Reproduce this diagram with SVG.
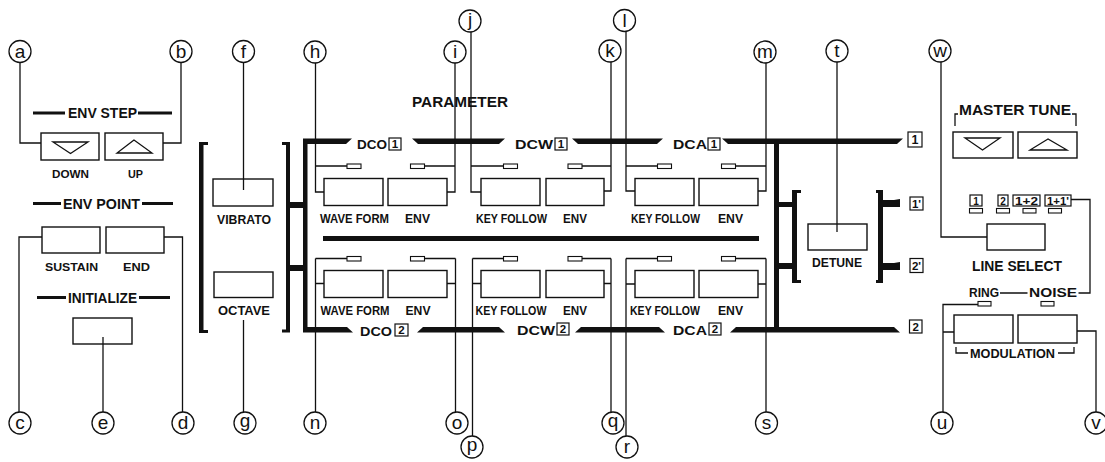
<svg xmlns="http://www.w3.org/2000/svg" width="1105" height="462" viewBox="0 0 1105 462">
<style>
.ln{stroke:#111;stroke-width:1.3;fill:none}
.btn{fill:#fff;stroke:#111;stroke-width:1.4}
.led{fill:#fff;stroke:#111;stroke-width:1.1}
.bar{fill:#111}
.dash{stroke:#111;stroke-width:3;fill:none}
.co circle{fill:#fff;stroke:#111;stroke-width:1.3}
.co text{font-family:"Liberation Sans",Arial,sans-serif;font-size:19px;text-anchor:middle;fill:#111}
.t{font-family:"Liberation Sans",Arial,sans-serif;font-weight:bold;fill:#111;text-anchor:middle}
.s10{font-size:10px}.s11{font-size:11.5px}.s12{font-size:12.5px}.s13{font-size:13.5px}.s14{font-size:14.5px}
.bx{fill:#fff;stroke:#111;stroke-width:1.2}
</style>
<rect width="1105" height="462" fill="#fff"/>

<!-- thick bus bars -->
<g id="buses">
  <path class="bar" d="M303,138.5 H352 L346,144 H307.5 V327 H347 L353,332.5 H303 Z"/>
  <polygon class="bar" points="412,138.5 505,138.5 499,144 418,144"/>
  <polygon class="bar" points="572,138.5 663,138.5 657,144 578,144"/>
  <polygon class="bar" points="722,138.5 903,138.5 897,144 728,144"/>
  <polygon class="bar" points="423,327 499,327 505,332.5 417,332.5"/>
  <polygon class="bar" points="581,327 659,327 665,332.5 575,332.5"/>
  <polygon class="bar" points="736,327 894,327 900,332.5 730,332.5"/>
  <rect class="bar" x="323" y="236" width="436" height="5"/>
  <rect class="bar" x="774" y="140" width="5" height="191"/>
  <path class="bar" d="M199,142 H208 V145 H203.5 V330 H208 V333 H199 Z"/>
  <path class="bar" d="M282,142 H290 V332.5 H282 V329.5 H286 V145 H282 Z"/>
  <rect class="bar" x="290" y="202" width="13" height="6"/>
  <rect class="bar" x="290" y="265" width="13" height="6"/>
  <rect class="bar" x="779" y="202" width="14" height="5"/>
  <rect class="bar" x="779" y="263" width="14" height="6"/>
  <path class="bar" d="M792,190 H801 V193 H797 V280 H801 V283 H792 Z"/>
  <path class="bar" d="M876,190 H883 V283 H876 V280 H878 V193 H876 Z"/>
  <polygon class="bar" points="883,200 894,200 900,199 900,207 883,207"/>
  <polygon class="bar" points="883,263 894,263 900,262 900,270 883,270"/>
</g>

<!-- bus labels -->
<g id="bus-labels">
  <text class="t s13" x="372" y="149" textLength="30" lengthAdjust="spacingAndGlyphs">DCO</text>
  <rect class="bx" x="389" y="138" width="12" height="12"/><text class="t s11" x="395" y="148">1</text>
  <text class="t s13" x="534" y="149" textLength="38" lengthAdjust="spacingAndGlyphs">DCW</text>
  <rect class="bx" x="555" y="138" width="12" height="12"/><text class="t s11" x="561" y="148">1</text>
  <text class="t s13" x="690" y="149" textLength="34" lengthAdjust="spacingAndGlyphs">DCA</text>
  <rect class="bx" x="708" y="138" width="12" height="12"/><text class="t s11" x="714" y="148">1</text>
  <text class="t s13" x="376" y="336" textLength="32" lengthAdjust="spacingAndGlyphs">DCO</text>
  <rect class="bx" x="395" y="324" width="13" height="12"/><text class="t s11" x="401.5" y="334">2</text>
  <text class="t s13" x="536" y="335" textLength="38" lengthAdjust="spacingAndGlyphs">DCW</text>
  <rect class="bx" x="557" y="323" width="12" height="12"/><text class="t s11" x="563" y="333">2</text>
  <text class="t s13" x="690" y="335" textLength="34" lengthAdjust="spacingAndGlyphs">DCA</text>
  <rect class="bx" x="709" y="323" width="12" height="12"/><text class="t s11" x="715" y="333">2</text>
  <text class="t s14" x="460" y="107" textLength="96" lengthAdjust="spacingAndGlyphs">PARAMETER</text>
  <rect class="bx" x="908" y="132" width="14" height="15"/><text class="t s12" x="915" y="144">1</text>
  <rect class="bx" x="910" y="197" width="13" height="13"/><text class="t s11" x="916.5" y="207.5">1'</text>
  <rect class="bx" x="910" y="258.5" width="13" height="14"/><text class="t s11" x="916.5" y="269.5">2'</text>
  <rect class="bx" x="909.5" y="320" width="12.5" height="13"/><text class="t s11" x="915.75" y="330.5">2</text>
</g>

<!-- left panel -->
<g id="env-step">
  <path class="dash" d="M33,113 H65 M138,113 H172"/>
  <text class="t s14" x="102.5" y="118" textLength="69" lengthAdjust="spacingAndGlyphs">ENV STEP</text>
  <rect class="btn" x="41" y="133" width="58" height="27"/>
  <path class="ln" d="M53,142 H88 L70.5,153.5 Z"/>
  <rect class="btn" x="105" y="133" width="58" height="27"/>
  <path class="ln" stroke-width="1.6" d="M134,140 L117,153 H152 Z"/>
  <text class="t s11" x="70.5" y="178" textLength="37" lengthAdjust="spacingAndGlyphs">DOWN</text>
  <text class="t s11" x="135.5" y="178" textLength="15" lengthAdjust="spacingAndGlyphs">UP</text>
</g>
<g id="env-point">
  <path class="dash" d="M33,203.5 H61 M142,203.5 H173"/>
  <text class="t s14" x="101.5" y="209" textLength="77" lengthAdjust="spacingAndGlyphs">ENV POINT</text>
  <rect class="btn" x="42" y="227" width="58" height="26"/>
  <rect class="btn" x="106" y="227" width="58" height="26"/>
  <text class="t s11" x="71.5" y="270.5" textLength="53" lengthAdjust="spacingAndGlyphs">SUSTAIN</text>
  <text class="t s11" x="136.5" y="270.5" textLength="27" lengthAdjust="spacingAndGlyphs">END</text>
</g>
<g id="initialize">
  <path class="dash" d="M37,297.5 H66 M139,297.5 H170"/>
  <text class="t s14" x="102.5" y="303" textLength="69" lengthAdjust="spacingAndGlyphs">INITIALIZE</text>
  <rect class="btn" x="73" y="318" width="59" height="26"/>
</g>
<g id="vibrato">
  <rect class="btn" x="213" y="179" width="60" height="27"/>
  <text class="t s12" x="244" y="224" textLength="54" lengthAdjust="spacingAndGlyphs">VIBRATO</text>
</g>
<g id="octave">
  <rect class="btn" x="214" y="272" width="59" height="25.5"/>
  <text class="t s12" x="244" y="315" textLength="52" lengthAdjust="spacingAndGlyphs">OCTAVE</text>
</g>

<!-- modules -->
<g id="dco1">
  <rect class="led" x="347" y="164" width="14" height="4.5"/><rect class="led" x="410.5" y="164" width="14" height="4.5"/>
  <rect class="btn" x="324" y="178.5" width="59" height="27"/><rect class="btn" x="388" y="178.5" width="59" height="27"/>
  <text class="t s12" x="354.5" y="222.5" textLength="69" lengthAdjust="spacingAndGlyphs">WAVE FORM</text><text class="t s12" x="417.5" y="222.5" textLength="25" lengthAdjust="spacingAndGlyphs">ENV</text>
</g>
<g id="dcw1">
  <rect class="led" x="503.5" y="164" width="14" height="4.5"/><rect class="led" x="568" y="164" width="14" height="4.5"/>
  <rect class="btn" x="481" y="178.5" width="59" height="27"/><rect class="btn" x="546" y="178.5" width="58" height="27"/>
  <text class="t s12" x="511.5" y="222.5" textLength="71" lengthAdjust="spacingAndGlyphs">KEY FOLLOW</text><text class="t s12" x="575" y="222.5" textLength="24" lengthAdjust="spacingAndGlyphs">ENV</text>
</g>
<g id="dca1">
  <rect class="led" x="657.5" y="164" width="14" height="4.5"/><rect class="led" x="721.5" y="164" width="14" height="4.5"/>
  <rect class="btn" x="635" y="178.5" width="59" height="27"/><rect class="btn" x="699" y="178.5" width="59" height="27"/>
  <text class="t s12" x="665.5" y="222.5" textLength="69" lengthAdjust="spacingAndGlyphs">KEY FOLLOW</text><text class="t s12" x="730.5" y="222.5" textLength="25" lengthAdjust="spacingAndGlyphs">ENV</text>
</g>
<g id="dco2">
  <rect class="led" x="347" y="256.5" width="14" height="4.5"/><rect class="led" x="410.5" y="256.5" width="14" height="4.5"/>
  <rect class="btn" x="324" y="270.5" width="59" height="27"/><rect class="btn" x="388" y="270.5" width="59" height="27"/>
  <text class="t s12" x="355" y="315" textLength="69" lengthAdjust="spacingAndGlyphs">WAVE FORM</text><text class="t s12" x="418" y="315" textLength="25" lengthAdjust="spacingAndGlyphs">ENV</text>
</g>
<g id="dcw2">
  <rect class="led" x="503.5" y="256.5" width="14" height="4.5"/><rect class="led" x="568" y="256.5" width="14" height="4.5"/>
  <rect class="btn" x="481" y="270.5" width="59" height="27"/><rect class="btn" x="546" y="270.5" width="58" height="27"/>
  <text class="t s12" x="511" y="315" textLength="71" lengthAdjust="spacingAndGlyphs">KEY FOLLOW</text><text class="t s12" x="575" y="315" textLength="24" lengthAdjust="spacingAndGlyphs">ENV</text>
</g>
<g id="dca2">
  <rect class="led" x="657.5" y="256.5" width="14" height="4.5"/><rect class="led" x="721.5" y="256.5" width="14" height="4.5"/>
  <rect class="btn" x="635" y="270.5" width="59" height="27"/><rect class="btn" x="699" y="270.5" width="59" height="27"/>
  <text class="t s12" x="665" y="315" textLength="70" lengthAdjust="spacingAndGlyphs">KEY FOLLOW</text><text class="t s12" x="730.5" y="315" textLength="25" lengthAdjust="spacingAndGlyphs">ENV</text>
</g>
<g id="detune">
  <rect class="btn" x="808" y="224" width="59" height="26"/>
  <text class="t s12" x="837" y="267" textLength="50" lengthAdjust="spacingAndGlyphs">DETUNE</text>
</g>

<!-- right panel -->
<g id="master-tune">
  <path class="ln" d="M955,126 V114 H958 M1072,114 H1076 V126"/>
  <text class="t s14" x="1015" y="115" textLength="112" lengthAdjust="spacingAndGlyphs">MASTER TUNE</text>
  <rect class="btn" x="953" y="132" width="60" height="26"/>
  <path class="ln" d="M965,138 H1000 L982.5,150 Z"/>
  <rect class="btn" x="1018" y="132" width="59" height="26"/>
  <path class="ln" stroke-width="1.6" d="M1048,139 L1030,150 H1067 Z"/>
</g>
<g id="line-select">
  <rect class="bx" x="970" y="195" width="12" height="11"/><text class="t s10" x="976" y="204.5">1</text>
  <rect class="bx" x="998" y="195" width="10" height="11"/><text class="t s10" x="1003" y="204.5">2</text>
  <rect class="bx" x="1013" y="195" width="27" height="11"/><text class="t s10" x="1026.5" y="204.5" textLength="23" lengthAdjust="spacingAndGlyphs">1+2</text>
  <rect class="bx" x="1045" y="195" width="26" height="11"/><text class="t s10" x="1058" y="204.5" textLength="22" lengthAdjust="spacingAndGlyphs">1+1'</text>
  <rect class="led" x="969.5" y="208.5" width="13" height="4.5"/>
  <rect class="led" x="996.5" y="208.5" width="13" height="4.5"/>
  <rect class="led" x="1023" y="208.5" width="13" height="4.5"/>
  <rect class="led" x="1048.5" y="208.5" width="13" height="4.5"/>
  <rect class="btn" x="987" y="224" width="58" height="26"/>
  <text class="t s14" x="1017" y="270.5" textLength="90" lengthAdjust="spacingAndGlyphs">LINE SELECT</text>
</g>
<g id="modulation">
  <text class="t s12" x="984" y="297" textLength="30" lengthAdjust="spacingAndGlyphs">RING</text>
  <text class="t s12" x="1053" y="297" textLength="48" lengthAdjust="spacingAndGlyphs">NOISE</text>
  <rect class="led" x="978" y="301.5" width="13" height="4.5"/>
  <rect class="led" x="1041" y="301.5" width="13" height="4.5"/>
  <rect class="btn" x="954" y="315" width="59" height="28"/>
  <rect class="btn" x="1018" y="315" width="59" height="28"/>
  <path class="ln" d="M956,347 V353 H968 M1058,353 H1074 V347"/>
  <text class="t s13" x="1012.5" y="358" textLength="85" lengthAdjust="spacingAndGlyphs">MODULATION</text>
</g>

<!-- leader lines -->
<g id="connectors" class="ln">
  <path d="M20,62.5 V143 H41"/>
  <path d="M181,62.5 V143 H163"/>
  <path d="M42,237 H19 V412"/>
  <path d="M164,237 H182.5 V412"/>
  <path d="M103,337 V412"/>
  <path d="M243.5,62.5 V190"/>
  <path d="M243.5,320 V412"/>
  <path d="M315.5,63 V192 H324 M315.5,166 H347"/>
  <path d="M455,63 V192 H447 M424.5,166 H455"/>
  <path d="M471,32 V192 H481 M471,166 H503.5"/>
  <path d="M611,62 V191 H604 M582,166 H611"/>
  <path d="M626,31.5 V191 H635 M626,166 H657.5"/>
  <path d="M766,63 V191 H758 M735.5,166 H766"/>
  <path d="M315.5,258.5 V412 M315.5,258.5 H347 M315.5,283.5 H324"/>
  <path d="M455.5,258.5 V412 M424.5,258.5 H455.5 M447,283.5 H455.5"/>
  <path d="M472.5,258.5 V436 M472.5,258.5 H503.5 M472.5,283.5 H481"/>
  <path d="M611,258.5 V412 M582,258.5 H611 M604,283.5 H611"/>
  <path d="M626,258.5 V436 M626,258.5 H657.5 M626,284 H635"/>
  <path d="M766,258.5 V412 M735.5,258.5 H766 M758,284 H766"/>
  <path d="M837,62 V232"/>
  <path d="M941,62 V237 H987"/>
  <path d="M1071,199.5 H1090 V293 H1078.5 M1000,293 H1027.5"/>
  <path d="M978,304.5 H943 V412 M943,332 H954"/>
  <path d="M1077,331 H1096 V412"/>
</g>

<!-- callouts -->
<g class="co">
  <g id="co-a"><circle cx="20" cy="51.5" r="11"/><text x="20" y="57.5">a</text></g>
  <g id="co-b"><circle cx="181" cy="51.5" r="11"/><text x="181" y="57.5">b</text></g>
  <g id="co-c"><circle cx="20" cy="423" r="11"/><text x="20" y="429">c</text></g>
  <g id="co-d"><circle cx="183" cy="423" r="11"/><text x="183" y="429">d</text></g>
  <g id="co-e"><circle cx="103" cy="423" r="11"/><text x="103" y="429">e</text></g>
  <g id="co-f"><circle cx="243.5" cy="51.5" r="11"/><text x="243.5" y="57.5">f</text></g>
  <g id="co-g"><circle cx="245" cy="423" r="11"/><text x="245" y="426.5">g</text></g>
  <g id="co-h"><circle cx="315" cy="52" r="11"/><text x="315" y="58">h</text></g>
  <g id="co-i"><circle cx="455" cy="52" r="11"/><text x="455" y="58">i</text></g>
  <g id="co-j"><circle cx="470" cy="21" r="11"/><text x="470" y="25.5">j</text></g>
  <g id="co-k"><circle cx="610" cy="51" r="11"/><text x="610" y="57">k</text></g>
  <g id="co-l"><circle cx="624.5" cy="20.5" r="11"/><text x="624.5" y="26.5">l</text></g>
  <g id="co-m"><circle cx="765" cy="52" r="11"/><text x="765" y="58">m</text></g>
  <g id="co-n"><circle cx="315" cy="423" r="11"/><text x="315" y="429">n</text></g>
  <g id="co-o"><circle cx="457" cy="423" r="11"/><text x="457" y="429">o</text></g>
  <g id="co-p"><circle cx="472" cy="447" r="11"/><text x="472" y="450.5">p</text></g>
  <g id="co-q"><circle cx="613" cy="423" r="11"/><text x="613" y="426.5">q</text></g>
  <g id="co-r"><circle cx="627" cy="447" r="11"/><text x="627" y="453">r</text></g>
  <g id="co-s"><circle cx="766.5" cy="423" r="11"/><text x="766.5" y="429">s</text></g>
  <g id="co-t"><circle cx="837" cy="51" r="11"/><text x="837" y="57">t</text></g>
  <g id="co-u"><circle cx="942" cy="423" r="11"/><text x="942" y="429">u</text></g>
  <g id="co-v"><circle cx="1096" cy="423" r="11"/><text x="1096" y="429">v</text></g>
  <g id="co-w"><circle cx="940" cy="51" r="11"/><text x="940" y="57">w</text></g>
</g>
</svg>
